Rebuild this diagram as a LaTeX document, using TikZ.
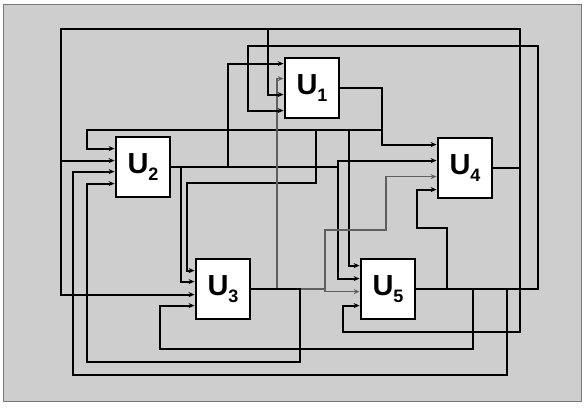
\documentclass[tikz,border=0pt]{standalone}
\usepackage{fontspec}
\setsansfont{Liberation Sans}
\usetikzlibrary{arrows.meta,backgrounds}
\definecolor{fondo}{RGB}{206,206,206}
\definecolor{borde}{RGB}{120,120,120}
\definecolor{tenue}{RGB}{95,95,95}
\newcommand{\unidad}[1]{U\raisebox{-0.22em}{\fontsize{18}{18}\selectfont #1}}

\begin{document}
\begin{tikzpicture}[x=1pt, y=-1pt,
  bloque/.style={draw, line width=2.8pt, fill=white, minimum width=54pt,
                 minimum height=60pt, inner sep=0pt,
                 font=\sffamily\bfseries\fontsize{29}{29}\selectfont},
  cable/.style={line width=1.8pt, -{Stealth[length=6pt,width=5pt]}},
  cabletenue/.style={cable, line width=1.1pt, color=tenue}]
  \useasboundingbox (0,0) rectangle (584,413);
  \node[bloque] (U1) at (312,88) {\unidad{1}};
  \node[bloque] (U2) at (143,167) {\unidad{2}};
  \node[bloque] (U3) at (223,289) {\unidad{3}};
  \node[bloque] (U4) at (465,168) {\unidad{4}};
  \node[bloque] (U5) at (388,289) {\unidad{5}};
  % entradas de cada bloque
  \foreach \n/\lista in {U1/{7,22,38,54}, U2/{13,25,36,48}, U3/{13,24,37,48},
                         U4/{8,24,40,53}, U5/{8,21,34,48}}
    \foreach \d [count=\i] in \lista
      \coordinate (\n-\i) at ([yshift=-\d]\n.north west);
  \begin{scope}[on background layer]
    \fill[fondo, draw=borde, line width=0.8pt] (3,4) rectangle (581,401);
    % salidas de U1
    \draw[cable] (U1.east) -| (382,130) |- (U4-1);
    \foreach \bx/\by/\dest in {87/140/U2-1, 349/200/U5-1}
      \draw[cable] (U1.east) -| (382,130) -| (\bx,\by) |- (\dest);
    \draw[cable] (U1.east) -| (382,130) -| (316,183) -| (187,230) |- (U3-1);
    % salidas de U2
    \foreach \bx/\by/\dest in {338/164/U4-2, 338/220/U5-2, 181/220/U3-2, 228/120/U1-1}
      \draw[cable] (U2.east) -| (\bx,\by) |- (\dest);
    % salidas de U3
    \draw[cabletenue] (U3.east) -| (277,200) |- (U1-2);
    \draw[cabletenue] (U3.east) -| (325,230) -| (386,200) |- (U4-3);
    \draw[cabletenue] (U3.east) -| (325,291) |- (U5-3);
    \draw[cable] (U3.east) -| (300,362) -| (87,300) |- (U2-4);
    % salidas de U4
    \foreach \bx/\by/\dest in {268/60/U1-3, 61/100/U2-2, 61/200/U3-3}
      \draw[cable] (U4.east) -| (520,29) -| (\bx,\by) |- (\dest);
    \draw[cable] (U4.east) -| (520,332) -| (343,320) |- (U5-4);
    % salidas de U5
    \draw[cable] (U5.east) -| (538,46) -| (248,80) |- (U1-4);
    \draw[cable] (U5.east) -| (447,228) -| (417,210) |- (U4-4);
    \draw[cable] (U5.east) -| (473,349) -| (160,330) |- (U3-4);
    \draw[cable] (U5.east) -| (507,375) -| (73,250) |- (U2-3);
  \end{scope}
\end{tikzpicture}
\end{document}
